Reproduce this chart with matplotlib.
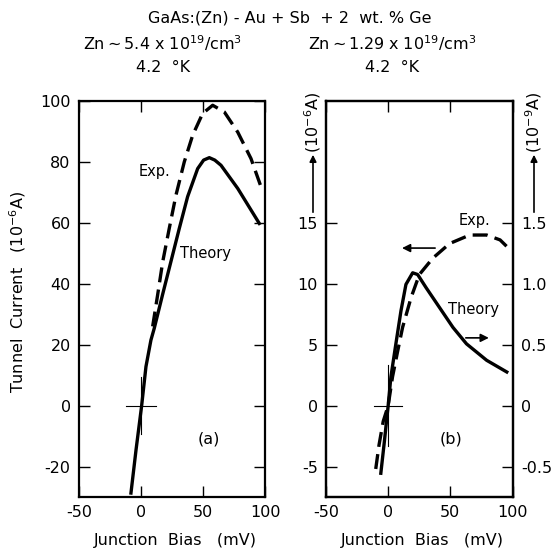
import matplotlib
matplotlib.use('Agg')
import matplotlib.pyplot as plt

plt.rcParams['font.family'] = ['DejaVu Sans']
plt.rcParams['mathtext.default'] = 'regular'

# (a) Zn ~ 5.4e19 cm^-3, current in 1e-6 A
theory_a_x = [-8.1, -4, 0.5, 4, 8, 10.7, 17.5, 24.2, 30.9, 37.6, 45.7, 50.5, 55.1,
              59.5, 64.5, 78, 95.4]
theory_a_y = [-28.7, -14.5, -0.1, 12.8, 21.5, 25.4, 36.6, 47.4, 58.2, 68.6, 77.8,
              80.6, 81.4, 80.6, 78.9, 71.3, 59.8]
exp_a_x = [9.4, 13.4, 17.5, 22.8, 28.2, 34.9, 41.7, 49.7, 57.8, 67.2, 78, 88.7, 96.8]
exp_a_y = [26, 36.3, 47.2, 58.2, 69.1, 80, 88.8, 95.9, 98.6, 96.4, 89.8, 81.1, 71.8]

# (b) Zn ~ 1.29e19 cm^-3; experiment in 1e-6 A, theory in 1e-9 A
exp_b_x = [-10, -7.3, -4, 0, 3.5, 7.5, 11.6, 18.4, 25.1, 35.9, 49.4, 65.6, 79.2,
           90, 99.4]
exp_b_y = [-5.2, -3.2, -1.3, 0, 2.36, 4.4, 6.42, 8.86, 10.76, 12.1, 13.3, 14.0,
           14.0, 13.6, 12.66]
theory_b_x = [-5.9, -3, 0, 2.2, 6.2, 10.3, 14.3, 19.7, 23.7, 30.5, 41.3, 52.1, 63,
              79.2, 95.4]
theory_b_y = [-0.555, -0.29, 0, 0.236, 0.507, 0.778, 0.995, 1.09, 1.076, 0.968,
              0.805, 0.642, 0.507, 0.372, 0.276]

xticks = [-50, 0, 50, 100]
yticks_a = [-20, 0, 20, 40, 60, 80, 100]
yticks_b = [-5, 0, 5, 10, 15]
yticks_b_right = [-0.5, 0, 0.5, 1.0, 1.5]
yticklabels_b_right = ['-0.5', '0', '0.5', '1.0', '1.5']

fs = 11.5
W, H = 553, 550
fig = plt.figure(figsize=(W / 100, H / 100), dpi=100)

ax_a = fig.add_axes([79 / W, 1 - 497 / H, 186 / W, 396 / H])
ax_b = fig.add_axes([326 / W, 1 - 497 / H, 186.5 / W, 396 / H])


def style(ax):
    for s in ax.spines.values():
        s.set_linewidth(1.6)
    ax.tick_params(direction='in', length=8, width=1.0, labelsize=fs,
                   top=True, right=True, pad=6)
    ax.set_xlim(-50, 100)
    ax.set_xticks(xticks)
    ax.set_xticklabels([str(t) for t in xticks])


def cross(ax, dx, dy):
    ax.plot([-dx, dx], [0, 0], color='black', lw=0.8)
    ax.plot([0, 0], [-dy, dy], color='black', lw=0.8)


# panel (a)
style(ax_a)
ax_a.set_ylim(-30, 100)
ax_a.set_yticks(yticks_a)
ax_a.set_yticklabels([str(t) for t in yticks_a])
cross(ax_a, 12, 9.3)
ax_a.plot(theory_a_x, theory_a_y, color='black', lw=2.4, solid_joinstyle='round')
ax_a.plot(exp_a_x, exp_a_y, color='black', lw=2.4, dashes=(4.5, 2.2))
ax_a.text(10.5, 77, 'Exp.', fontsize=10.5, ha='center', va='center')
ax_a.text(52, 50, 'Theory', fontsize=10.5, ha='center', va='center')
ax_a.text(55, -11, '(a)', fontsize=fs, ha='center', va='center')

# panel (b)
style(ax_b)
ax_b.tick_params(right=False)
ax_b.set_ylim(-7.5, 25)
ax_b.set_yticks(yticks_b)
ax_b.set_yticklabels([str(t) for t in yticks_b])
cross(ax_b, 11.5, 3.3)
ax_b.plot(exp_b_x, exp_b_y, color='black', lw=2.4, dashes=(4.5, 2.2))

ax_r = ax_b.twinx()
ax_r.set_ylim(-0.75, 2.5)
ax_r.set_yticks(yticks_b_right)
ax_r.set_yticklabels(yticklabels_b_right)
ax_r.tick_params(direction='in', length=8, width=1.0, labelsize=fs, pad=6)
for s in ax_r.spines.values():
    s.set_linewidth(1.6)
ax_r.plot(theory_b_x, theory_b_y, color='black', lw=2.4, solid_joinstyle='round')

arrow = dict(arrowstyle='-|>', color='black', lw=1.2, mutation_scale=12)
ax_b.annotate('', xy=(8.9, 12.93), xytext=(40, 12.93), arrowprops=arrow)
ax_b.annotate('', xy=(83.2, 5.56), xytext=(60.2, 5.56), arrowprops=arrow)
ax_b.text(69.7, 15.2, 'Exp.', fontsize=10.5, ha='center', va='center')
ax_b.text(68.3, 7.9, 'Theory', fontsize=10.5, ha='center', va='center')
ax_b.text(50.8, -2.7, '(b)', fontsize=fs, ha='center', va='center')

# axis titles
fig.text(18 / W, 1 - 292 / H, 'Tunnel  Current   (10$^{-6}$A)', rotation=90,
         fontsize=fs, ha='center', va='center')
fig.text(175 / W, 1 - 540 / H, 'Junction  Bias   (mV)', fontsize=fs,
         ha='center', va='center')
fig.text(422 / W, 1 - 540 / H, 'Junction  Bias   (mV)', fontsize=fs,
         ha='center', va='center')

# unit labels beside panel (b) with upward arrows
for x_px, unit in [(313, '(10$^{-6}$A)'), (534, '(10$^{-9}$A)')]:
    fig.text(x_px / W, 1 - 122 / H, unit, rotation=90, fontsize=fs,
             ha='center', va='center')
    ax_b.annotate('', xy=(x_px / W, 1 - 152 / H), xytext=(x_px / W, 1 - 215 / H),
                  xycoords='figure fraction', textcoords='figure fraction',
                  arrowprops=dict(arrowstyle='-|>', color='black', lw=1.2,
                                  mutation_scale=10),
                  annotation_clip=False)

# header
fig.text(290 / W, 1 - 18 / H, 'GaAs:(Zn) - Au + Sb  + 2  wt. % Ge', fontsize=fs,
         ha='center', va='center')
fig.text(163 / W, 1 - 43 / H, 'Zn$\\sim$5.4 x 10$^{19}$/cm$^{3}$', fontsize=fs,
         ha='center', va='center')
fig.text(392 / W, 1 - 43 / H, 'Zn$\\sim$1.29 x 10$^{19}$/cm$^{3}$', fontsize=fs,
         ha='center', va='center')
fig.text(163 / W, 1 - 68 / H, '4.2  °K', fontsize=fs, ha='center', va='center')
fig.text(392 / W, 1 - 68 / H, '4.2  °K', fontsize=fs, ha='center', va='center')

fig.savefig('out.png', dpi=100)
